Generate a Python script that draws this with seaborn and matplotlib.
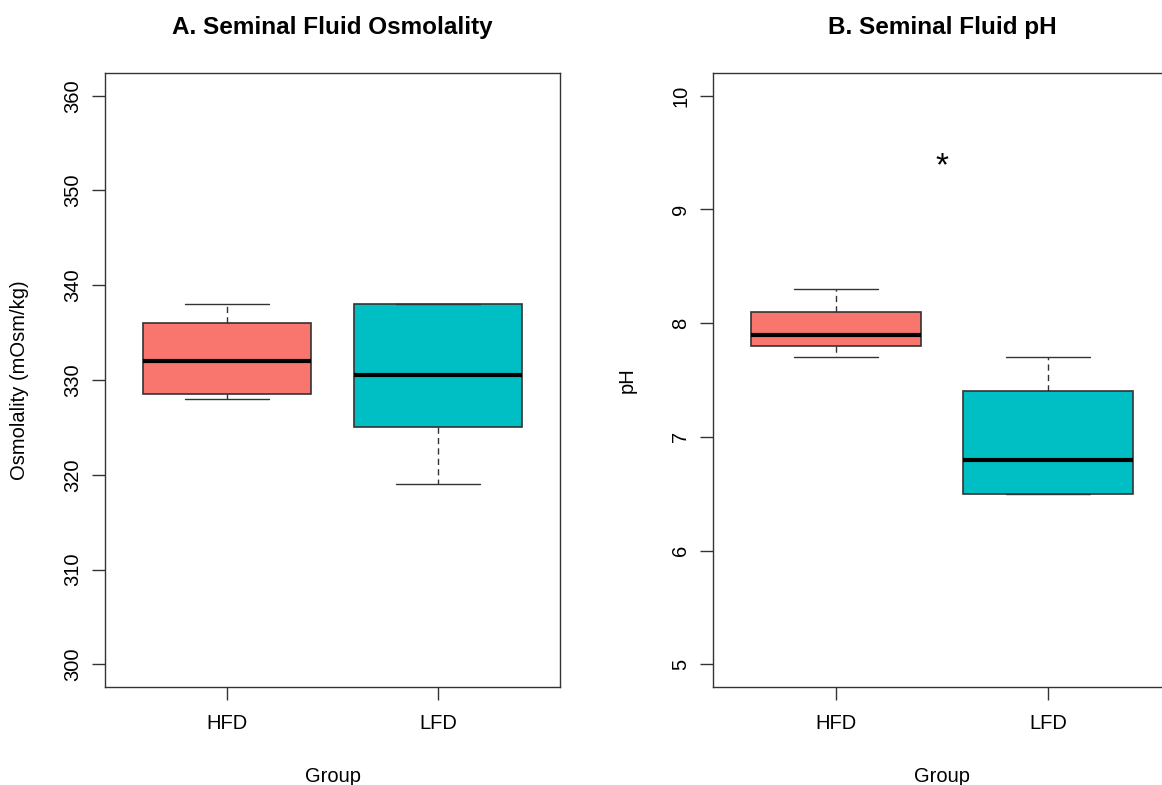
import numpy as np
import pandas as pd
import matplotlib
matplotlib.use("Agg")
import matplotlib.pyplot as plt
import seaborn as sns

# Group labels and per-group five-number summaries (min, Q1, median, Q3, max)
groups = ["HFD", "LFD"]
osm_hfd = [328.0, 328.5, 332.0, 336.0, 338.0]
osm_lfd = [319.0, 325.0, 330.5, 338.0, 338.0]
ph_hfd = [7.7, 7.8, 7.9, 8.1, 8.3]
ph_lfd = [6.5, 6.5, 6.8, 7.4, 7.7]

osm_ticks = [300, 310, 320, 330, 340, 350, 360]
ph_ticks = [5, 6, 7, 8, 9, 10]
group_colors = ["#F8766D", "#00BFC4"]
sig_mark = "*"
sig_mark_pos = (0.5, 9.3)

sns.set_style("ticks")
plt.rcParams["font.family"] = ["Liberation Sans", "DejaVu Sans"]
plt.rcParams["text.color"] = "black"
plt.rcParams["axes.labelcolor"] = "black"
plt.rcParams["axes.titlecolor"] = "black"

LINE = "#333333"
FS = 14.5


def long_frame(a, b):
    return pd.DataFrame({
        "Group": [groups[0]] * len(a) + [groups[1]] * len(b),
        "value": list(a) + list(b),
    })


def draw_panel(ax, df, title, ylabel, yticks, ylim):
    sns.boxplot(
        data=df, x="Group", y="value", hue="Group",
        order=groups, hue_order=groups, palette=group_colors,
        saturation=1, width=0.8, whis=(0, 100), legend=False,
        linecolor=LINE, linewidth=1.2, ax=ax,
        medianprops={"color": "black", "linewidth": 3.0},
        whiskerprops={"linestyle": (0, (4.5, 3)), "linewidth": 1.0},
        capprops={"linewidth": 1.0},
    )
    ax.set_xlim(-0.58, 1.58)
    ax.set_ylim(*ylim)
    ax.set_yticks(yticks)
    ax.set_yticklabels([str(t) for t in yticks], rotation=90, va="center")
    ax.set_xticks(range(len(groups)))
    ax.set_xticklabels(groups)
    ax.tick_params(axis="both", direction="out", length=9.4, width=1.0,
                   color=LINE, labelsize=FS, labelcolor="black")
    ax.tick_params(axis="y", pad=7)
    ax.tick_params(axis="x", pad=10)
    for s in ax.spines.values():
        s.set_visible(True)
        s.set_color(LINE)
        s.set_linewidth(1.0)
    ax.set_title(title, fontsize=17.5, fontweight="bold", pad=28,
                 color="black")
    ax.set_xlabel("Group", fontsize=FS, color="black")
    ax.xaxis.set_label_coords(0.5, -0.130)
    ax.set_ylabel(ylabel, fontsize=FS, va="center", color="black")
    ax.yaxis.set_label_coords(-0.187, 0.5)


fig = plt.figure(figsize=(11.62, 7.85), dpi=100)
ax1 = fig.add_axes([105 / 1162, 98 / 785, 455 / 1162, 614 / 785])
ax2 = fig.add_axes([713 / 1162, 98 / 785, 458 / 1162, 614 / 785])

draw_panel(ax1, long_frame(osm_hfd, osm_lfd), "A. Seminal Fluid Osmolality",
           "Osmolality (mOsm/kg)", osm_ticks, (297.6, 362.4))
draw_panel(ax2, long_frame(ph_hfd, ph_lfd), "B. Seminal Fluid pH",
           "pH", ph_ticks, (4.8, 10.2))

ax2.text(*sig_mark_pos, sig_mark, fontsize=24, ha="center", va="baseline",
         color="black")

fig.savefig("out.png", dpi=100)
